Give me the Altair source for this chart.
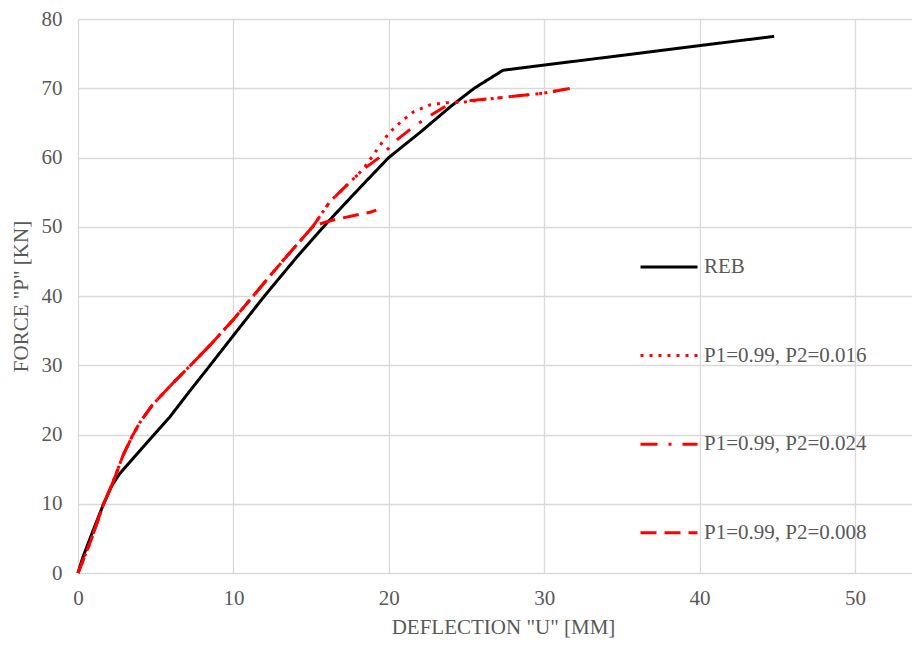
import altair as alt
import pandas as pd

series_names = ["REB", "P1=0.99, P2=0.016", "P1=0.99, P2=0.024", "P1=0.99, P2=0.008"]
series_colors = ["#000000", "#ff0000", "#ff0000", "#ff0000"]
series_dashes = [[1, 0], [3, 6], [17, 11, 3, 11], [16, 8]]

x_ticks = [0, 10, 20, 30, 40, 50]
y_ticks = [0, 10, 20, 30, 40, 50, 60, 70, 80]

reb_u = [0, 0.3, 1.0, 1.65, 2.2, 2.7, 3.6, 4.7, 5.9, 7.2, 8.4, 10, 12, 14, 16, 18, 20, 22, 24, 25.5, 27.35, 44.8]
reb_p = [0, 2.2, 6.3, 10, 12.7, 14.4, 16.7, 19.5, 22.5, 26.3, 29.7, 34.3, 40.0, 45.4, 50.5, 55.3, 60.0, 63.6, 67.4, 70.0, 72.6, 77.5]

p016_u = [0, 0.8, 1.65, 2.25, 2.9, 3.5, 4.0, 4.8, 6.1, 7.2, 8.5, 10, 11.2, 12.5, 14, 15.1, 16.2, 17.3, 18.35, 19.2, 20, 20.8, 21.6, 22.65, 23.7, 24.8, 27, 30, 31.7]
p016_p = [0, 4.5, 10, 13.1, 17.0, 19.8, 21.8, 24.3, 27.4, 29.9, 32.9, 36.6, 39.8, 43.3, 47.2, 50, 53.6, 56.0, 58.3, 61.0, 63.5, 65.2, 66.6, 67.6, 67.9, 68.0, 68.6, 69.3, 70.0]

p024_u = [0, 0.8, 1.65, 2.25, 2.9, 3.5, 4.0, 4.8, 6.1, 7.2, 8.5, 10, 11.2, 12.5, 14, 15.1, 16.2, 17.3, 18.35, 19.4, 20.5, 21.5, 22.5, 23.5, 24.4, 27, 30, 31.7]
p024_p = [0, 4.5, 10, 13.1, 17.0, 19.8, 21.8, 24.3, 27.4, 29.9, 32.9, 36.6, 39.8, 43.3, 47.2, 50, 53.6, 56.0, 58.3, 60.0, 62.5, 64.3, 65.8, 67.2, 68.0, 68.6, 69.3, 70.0]

p008_u = [0, 0.8, 1.65, 2.25, 2.9, 3.5, 4.0, 4.8, 6.1, 7.2, 8.5, 10, 11.2, 12.5, 14, 15.1, 15.8, 16.5, 17.7, 18.8, 19.2]
p008_p = [0, 4.5, 10, 13.1, 17.0, 19.8, 21.8, 24.3, 27.4, 29.9, 32.9, 36.6, 39.8, 43.3, 47.2, 50, 50.6, 51.0, 51.6, 52.1, 52.4]

rows = []
for name, us, ps in zip(series_names, [reb_u, p016_u, p024_u, p008_u], [reb_p, p016_p, p024_p, p008_p]):
    for i, (u, p) in enumerate(zip(us, ps)):
        rows.append({"series": name, "u": u, "p": p, "order": i})
df = pd.DataFrame(rows)

font = "Liberation Serif, Times New Roman, serif"
gray = "#595959"

legend = alt.Legend(
    orient="none", legendX=561, legendY=218, title=None,
    symbolType="stroke", symbolSize=3249, symbolStrokeWidth=3,
    labelFont=font, labelFontSize=21, labelColor=gray, labelOffset=5,
    rowPadding=48.6, labelLimit=400,
)

chart = alt.Chart(df).mark_line(strokeWidth=3).encode(
    x=alt.X("u:Q", scale=alt.Scale(domain=[0, 53.67], nice=False),
            axis=alt.Axis(values=x_ticks, title='DEFLECTION "U" [MM]', titleX=425, titleY=60,
                          titleAlign="center", titleBaseline="alphabetic", labelPadding=14,
                          labelFlush=False)),
    y=alt.Y("p:Q", scale=alt.Scale(domain=[0, 80], nice=False),
            axis=alt.Axis(values=y_ticks, title='FORCE "P" [KN]', titleX=-57, titleY=277,
                          titleAlign="center", titleBaseline="middle", titleAngle=270, labelPadding=16,
                          labelFlush=False)),
    color=alt.Color("series:N", scale=alt.Scale(domain=series_names, range=series_colors), legend=legend),
    strokeDash=alt.StrokeDash("series:N", scale=alt.Scale(domain=series_names, range=series_dashes), legend=legend),
    order="order:Q",
).properties(
    width=834, height=554,
    autosize=alt.AutoSizeParams(type="none"),
    padding={"left": 70, "top": 11, "right": 0, "bottom": 72},
).configure_axis(
    grid=True, gridColor="#d9d9d9", gridWidth=1.3, domain=False, ticks=False,
    labelFont=font, labelFontSize=21, labelColor=gray,
    titleFont=font, titleFontSize=21, titleColor=gray, titleFontWeight="normal",
).configure_view(stroke=None)

chart.save("out.html", embed_options={"renderer": "svg", "actions": False})
